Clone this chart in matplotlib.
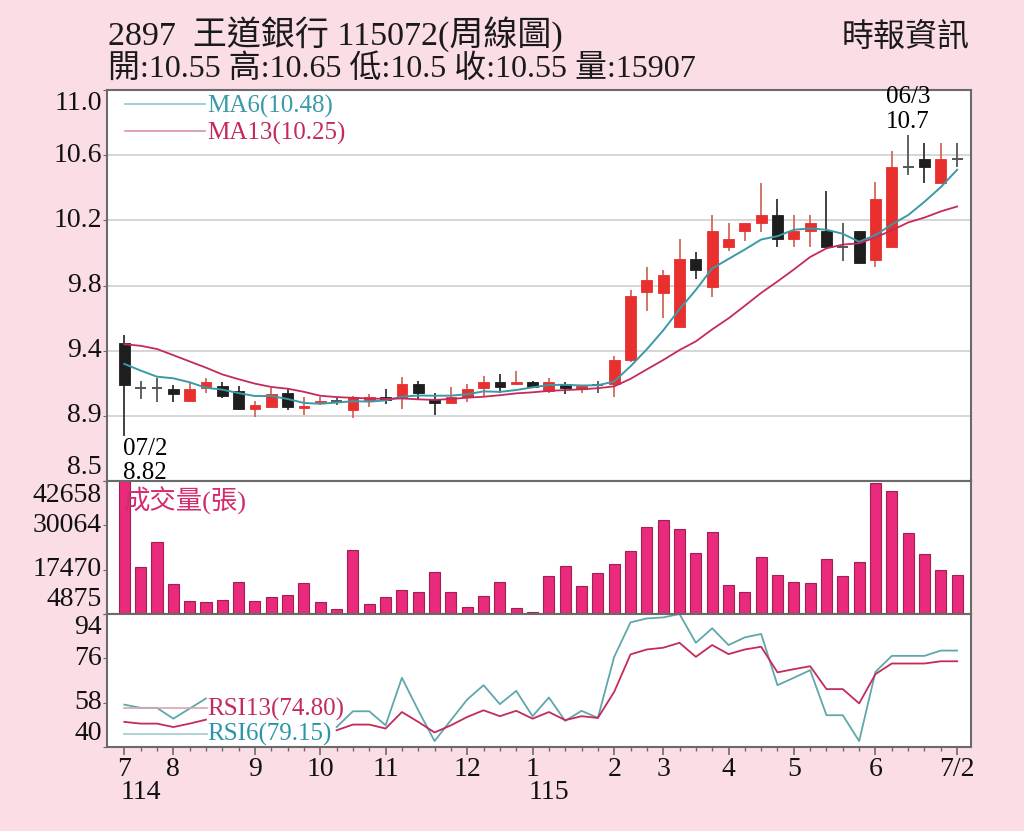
import numpy as np
import matplotlib
matplotlib.use("Agg")
import matplotlib.pyplot as plt
from matplotlib.transforms import blended_transform_factory, ScaledTranslation

plt.rcParams['font.family'] = ['Liberation Serif', 'Noto Sans CJK TC']

# weekly bars, 114/07/2 .. 115/07/2
opens = [9.40, 9.12, 9.12, 9.11, 9.04, 9.12, 9.13, 9.10, 8.99, 9.00,
         9.09, 8.995, 9.03, 9.035, 8.98, 9.045, 9.06, 9.055, 9.145, 9.05,
         9.025, 9.065, 9.12, 9.155, 9.145, 9.155, 9.10, 9.145, 9.11, 9.135,
         9.145, 9.295, 9.72, 9.71, 9.50, 9.925, 9.75, 10.00, 10.10, 10.15,
         10.20, 10.05, 10.10, 10.10, 10.00, 10.10, 9.92, 10.00, 10.50, 10.55,
         10.40, 10.55]
highs = [9.45, 9.16, 9.18, 9.14, 9.15, 9.18, 9.155, 9.13, 9.04, 9.12,
         9.12, 9.06, 9.06, 9.06, 9.07, 9.08, 9.11, 9.185, 9.165, 9.09,
         9.125, 9.145, 9.195, 9.205, 9.225, 9.16, 9.18, 9.155, 9.14, 9.165,
         9.32, 9.73, 9.875, 9.86, 10.05, 9.97, 10.20, 10.15, 10.15, 10.40,
         10.30, 10.20, 10.20, 10.35, 10.15, 10.10, 10.41, 10.60, 10.70, 10.65,
         10.65, 10.65]
lows = [8.82, 9.05, 9.03, 9.03, 9.04, 9.09, 9.055, 8.98, 8.94, 9.00,
        8.98, 8.95, 9.01, 9.01, 8.93, 9.00, 9.02, 8.99, 9.05, 8.95,
        9.025, 9.03, 9.07, 9.09, 9.14, 9.12, 9.085, 9.08, 9.09, 9.09,
        9.06, 9.28, 9.60, 9.555, 9.50, 9.80, 9.69, 9.975, 10.04, 10.095,
        10.00, 10.00, 10.00, 10.00, 9.915, 9.90, 9.875, 10.00, 10.45, 10.40,
        10.40, 10.50]
closes = [9.14, 9.12, 9.12, 9.08, 9.11, 9.155, 9.07, 8.99, 9.01, 9.08,
          9.00, 9.005, 9.04, 9.035, 9.06, 9.065, 9.045, 9.145, 9.085, 9.025,
          9.065, 9.115, 9.155, 9.125, 9.155, 9.125, 9.155, 9.12, 9.13, 9.135,
          9.295, 9.695, 9.795, 9.825, 9.925, 9.86, 10.10, 10.05, 10.15, 10.20,
          10.05, 10.10, 10.15, 10.00, 10.00, 9.90, 10.30, 10.50, 10.50, 10.50,
          10.55, 10.55]
# closes of the 12 weeks before the window (needed for MA6 / MA13)
prior_closes = [9.25, 9.38, 9.58, 9.62, 9.66, 9.62, 9.38, 9.37, 9.35, 9.14, 9.26, 9.36]

volumes = [42658, 18100, 25350, 13360, 8500, 8220, 8790, 13930, 8500, 9650,
           10300, 13640, 8220, 6390, 22950, 7650, 9730, 11820, 11240, 16670,
           11070, 6960, 10100, 14100, 6670, 5530, 15810, 18580, 12870, 16390,
           19160, 22870, 29640, 31520, 28950, 22210, 28290, 13160, 11240, 21150,
           15930, 14100, 13640, 20380, 15730, 19530, 42000, 39720, 27920, 21810,
           17440, 15907]

nan = np.nan
rsi6 = [57.2, 55.9, 55.9, 51.5, 55.6, 59.7, nan, nan, nan, nan,
        nan, nan, nan, 48.1, 54.5, 54.5, 48.8, 68.1, 54.9, 42.4,
        50.9, 59.3, 65.1, 57.4, 62.8, 52.5, 60.1, 50.6, 54.7, 51.8,
        76.6, 90.6, 92.2, 92.6, 94.0, 82.3, 88.2, 81.4, 84.5, 85.9,
        65.1, 68.1, 71.2, 52.9, 52.9, 42.4, 70.5, 77.0, 77.0, 77.0,
        79.15, 79.15]
rsi13 = [50.2, 49.5, 49.5, 48.1, 49.5, 51.1, nan, nan, nan, nan,
         nan, nan, nan, 46.8, 49.1, 49.1, 47.5, 54.2, 50.2, 45.9,
         48.8, 52.2, 54.9, 52.5, 54.7, 51.5, 54.2, 50.9, 52.5, 51.8,
         62.4, 77.6, 79.6, 80.3, 82.3, 76.6, 81.4, 77.7, 79.6, 80.7,
         70.3, 71.6, 72.8, 63.5, 63.5, 57.7, 69.6, 73.9, 73.9, 73.9,
         74.8, 74.8]

month_idx = [0, 3, 8, 12, 16, 21, 25, 30, 33, 37, 41, 46, 51]
month_labels = ['7', '8', '9', '10', '11', '12', '1', '2', '3', '4', '5', '6', '7/2']
year_marks = [(0, '114'), (25, '115')]

weeks = np.arange(len(closes))
closes_ext = np.array(prior_closes + closes)
ma6 = np.convolve(closes_ext, np.ones(6) / 6, 'valid')[-len(closes):]
ma13 = np.convolve(closes_ext, np.ones(13) / 13, 'valid')[-len(closes):]

BG = '#fbdde6'
RED = '#e8302e'
BLACK = '#1e1e1e'
TEAL = '#3a9aa6'
CRIMSON = '#c42a5c'
FRAME = '#6a6a6a'

fig = plt.figure(figsize=(10.24, 8.31), dpi=100, facecolor=BG)
W, H = 1024, 831
left, width = 107 / W, 864 / W
ax = fig.add_axes([left, 1 - 481 / H, width, 391 / H])
axv = fig.add_axes([left, 1 - 614 / H, width, 133 / H])
axr = fig.add_axes([left, 1 - 747 / H, width, 133 / H])

xlim = (-1.06, 51.85)
for a in (ax, axv, axr):
    a.set_xlim(*xlim)
    a.set_facecolor('white')
    for s in a.spines.values():
        s.set_color(FRAME)
        s.set_linewidth(1.5)
    a.tick_params(axis='y', length=3, color=FRAME, labelleft=False)


def y_labels(a, ticks, texts):
    # tick marks from the axis, labels drawn by hand so the end ones sit inside
    a.set_yticks(ticks)
    tr = blended_transform_factory(a.transAxes, a.transData)
    for k, (t, s) in enumerate(zip(ticks, texts)):
        dy = 0
        if k == 0:
            dy = 14 / 100
        elif k == len(ticks) - 1:
            dy = -14 / 100
        off = ScaledTranslation(-5 / 100, dy, fig.dpi_scale_trans)
        a.text(0, t, s, transform=tr + off, ha='right', va='center',
               fontsize=20, color='#111')


# ---- price panel
plo, phi = 8.538, 10.982
ax.set_ylim(plo, phi)
pticks = np.linspace(plo, phi, 7)
y_labels(ax, pticks, ['%.1f' % t for t in pticks])
for t in pticks[1:-1]:
    ax.axhline(t, color='#cfcfcf', lw=1.2, zorder=0)
ax.set_xticks([])

for i in weeks:
    o, h, l, c = opens[i], highs[i], lows[i], closes[i]
    if c > o:
        body, wick = RED, '#cf6a5a'
    elif c < o:
        body, wick = BLACK, '#333333'
    else:
        body, wick = None, '#555555'
    ax.vlines(i, l, h, color=wick, lw=1.3, zorder=2)
    if body is None:
        ax.hlines(c, i - 0.33, i + 0.33, color=wick, lw=1.4, zorder=3)
    else:
        ax.bar(i, abs(c - o), bottom=min(o, c), width=0.66, color=body,
               edgecolor=body, lw=0.6, zorder=3)

ax.plot(weeks, ma6, color=TEAL, lw=1.4, zorder=4)
ax.plot(weeks, ma13, color=CRIMSON, lw=1.3, zorder=4)

ax.plot([0.0208, 0.1134], [0.9642, 0.9642], transform=ax.transAxes, color='#8fc6c9', lw=1.2)
ax.plot([0.0208, 0.1134], [0.8951, 0.8951], transform=ax.transAxes, color='#d493a8', lw=1.2)
ax.text(0.1157, 0.957, 'MA6(%.2f)' % ma6[-1], transform=ax.transAxes, color=TEAL,
        fontsize=18, va='center', ha='left')
ax.text(0.1157, 0.888, 'MA13(%.2f)' % ma13[-1], transform=ax.transAxes, color=CRIMSON,
        fontsize=18, va='center', ha='left')

hi_i = int(np.argmax(highs))
lo_i = int(np.argmin(lows))
ax.annotate('10.7', xy=(hi_i, highs[hi_i]), xytext=(0, 9.4), textcoords='offset points',
            ha='center', va='center', fontsize=18)
ax.annotate('06/3', xy=(hi_i, highs[hi_i]), xytext=(0, 27.4), textcoords='offset points',
            ha='center', va='center', fontsize=18)
ax.annotate('07/2', xy=(lo_i, lows[lo_i]), xytext=(-1, -9.4), textcoords='offset points',
            ha='left', va='center', fontsize=18, annotation_clip=False)
ax.annotate('8.82', xy=(lo_i, lows[lo_i]), xytext=(-1, -26.6), textcoords='offset points',
            ha='left', va='center', fontsize=18, annotation_clip=False)

# ---- volume panel
vlo, vhi = 4875.4, max(volumes)
axv.set_ylim(vlo, vhi)
vticks = np.linspace(vlo, vhi, 4)
y_labels(axv, vticks, ['%d' % round(t) for t in vticks])
axv.set_xticks([])
axv.bar(weeks, volumes, width=0.68, color='#ea2a7c', edgecolor='#a0204f', lw=0.8, zorder=2)
axv.text(0.0185, 0.85, '成交量(張)', transform=axv.transAxes, color='#d42a6e',
         fontsize=19, va='center', ha='left', zorder=5)

# ---- RSI panel
axr.set_ylim(40, 94)
rticks = np.linspace(40, 94, 4)
y_labels(axr, rticks, ['%d' % t for t in rticks])
axr.plot(weeks, rsi6, color='#5fa7ab', lw=1.3, clip_on=False)
axr.plot(weeks, rsi13, color=CRIMSON, lw=1.3, clip_on=False)
axr.plot([0.0197, 0.1157], [0.2955, 0.2955], transform=axr.transAxes, color='#d6a6b4', lw=1.2)
axr.plot([0.0197, 0.1157], [0.0955, 0.0955], transform=axr.transAxes, color='#9fc9cc', lw=1.2)
axr.text(0.1157, 0.286, 'RSI13(%.2f)' % rsi13[-1], transform=axr.transAxes, color=CRIMSON,
         fontsize=18, va='center', ha='left')
axr.text(0.1157, 0.092, 'RSI6(%.2f)' % rsi6[-1], transform=axr.transAxes, color='#2a96a8',
         fontsize=18, va='center', ha='left')

axr.set_xticks(month_idx)
axr.set_xticklabels(month_labels)
axr.set_xticks(weeks, minor=True)
axr.tick_params(axis='x', which='major', direction='out', length=6, width=1.2,
                color=FRAME, labelsize=20, pad=1, labelcolor='#111')
axr.tick_params(axis='x', which='minor', direction='out', length=3, width=1.0, color=FRAME)
trans = blended_transform_factory(axr.transData, axr.transAxes)
for idx, yr in year_marks:
    axr.text(idx - 0.25, -0.345, yr, transform=trans, fontsize=20, ha='left',
             va='center', color='#111')

# ---- header
fig.text(108 / W, 1 - 34 / H, '2897  王道銀行 115072(周線圖)', fontsize=24.5,
         ha='left', va='center', color='#1a1a1a')
fig.text(108 / W, 1 - 69 / H, '開:10.55 高:10.65 低:10.5 收:10.55 量:15907', fontsize=23,
         ha='left', va='center', color='#1a1a1a')
fig.text(970 / W, 1 - 38 / H, '時報資訊', fontsize=23, ha='right', va='center', color='#1a1a1a')

fig.savefig('out.png', dpi=100, facecolor=BG)
